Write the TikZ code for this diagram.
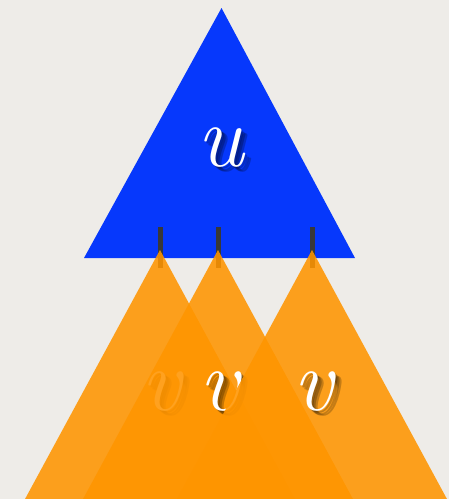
\documentclass[tikz,border=0pt]{standalone}
\usepackage{fontspec}
\usetikzlibrary{calc}
\definecolor{paper}{HTML}{EEECE8}
\definecolor{tblue}{HTML}{0638FC}
\definecolor{torange}{HTML}{FF9500}
\definecolor{tick}{HTML}{383838}
\tikzset{
  tri/.style={fill=torange, fill opacity=0.88, draw=none},
  lbl/.style={anchor=base, text=white, font=\fontsize{88}{88}\selectfont\itshape, inner sep=0pt},
  shd/.style={anchor=base, text=black, text opacity=0.22, font=\fontsize{88}{88}\selectfont\itshape, inner sep=0pt},
  tickline/.style={draw=tick, line width=5pt}
}
\newcommand{\shlabel}[3]{%
  \node[shd] at ($(#1)+(2,2)$) {#3};
  \node[shd] at ($(#1)+(4,4)$) {#3};
  \node[shd] at ($(#1)+(6,5)$) {#3};
  \node[lbl] (#2) at (#1) {#3};
}
\begin{document}
\begin{tikzpicture}[x=1pt,y=-1pt]
\fill[paper] (0,0) rectangle (449,499);
\useasboundingbox (0,0) rectangle (449,499);
% blue triangle
\fill[tblue] (221.5,8) -- (84,258) -- (355,258) -- cycle;
\coordinate (pu) at (221,166);
\shlabel{pu}{u}{u}
% ticks
\coordinate (t1a) at (160,227); \coordinate (t1b) at (160,268);
\coordinate (t2a) at (218,227); \coordinate (t2b) at (218,268);
\coordinate (t3a) at (312,227); \coordinate (t3b) at (312,268);
\draw[tickline] (t1a) -- (t1b);
\draw[tickline] (t2a) -- (t2b);
\draw[tickline] (t3a) -- (t3b);
% orange triangles with labels
\fill[tri] (160,250) -- (24.5,500) -- (295.5,500) -- cycle;
\coordinate (p1) at (161,410);
\shlabel{p1}{v1}{v}
\fill[tri] (218,250) -- (82.5,500) -- (353.5,500) -- cycle;
\coordinate (p2) at (219,410);
\shlabel{p2}{v2}{v}
\fill[tri] (312,250) -- (176.5,500) -- (447.5,500) -- cycle;
\coordinate (p3) at (313,410);
\shlabel{p3}{v3}{v}
\end{tikzpicture}
\end{document}
